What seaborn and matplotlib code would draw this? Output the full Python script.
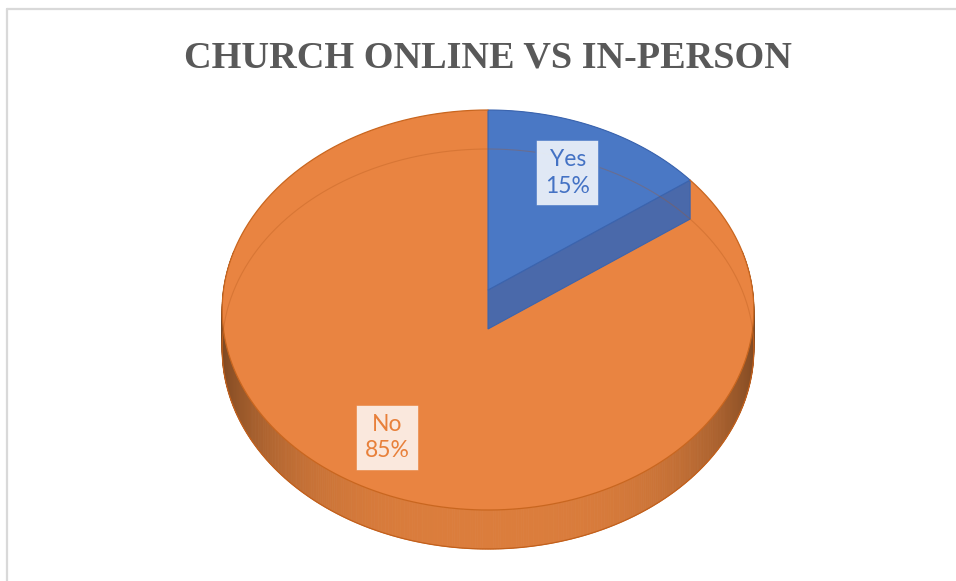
import numpy as np
import matplotlib
matplotlib.use("Agg")
import matplotlib.pyplot as plt
from matplotlib.patches import Polygon
from matplotlib.lines import Line2D
import seaborn as sns

# ---- data -------------------------------------------------------------
categories = ["Yes", "No"]
values = [15, 85]
title = "CHURCH ONLINE VS IN-PERSON"

# ---- style ------------------------------------------------------------
top_colors = ["#4A78C5", "#E98441"]
edge_colors = ["#3B64AE", "#C9661F"]
wall_mid = [np.array([70, 100, 165]), np.array([219, 125, 60])]
wall_dark = [np.array([40, 60, 110]), np.array([125, 72, 34])]
cut_colors = ["#4A69AA", "#B8652B"]
text_colors = ["#4472C4", "#E8803A"]
box_colors = ["#E9EFF8", "#FBEEE6"]
label_radius = [0.705, 0.78]

sns.set_theme(style="white")
plt.rcParams["font.family"] = ["Lato", "DejaVu Sans"]

W, H = 956, 581
fig = plt.figure(figsize=(W / 100, H / 100), dpi=100)
ax = fig.add_axes([0, 0, 1, 1])
ax.set_xlim(0, W)
ax.set_ylim(H, 0)
ax.axis("off")

# projected pie geometry (tilted disc seen in perspective)
CX, CY = 488.0, 290.0
A, C = 169.0, -0.1
K = 264.5
DEPTH = 39.0


def project(theta, rho=1.0):
    """theta measured clockwise from 12 o'clock, rho as fraction of radius"""
    theta = np.asarray(theta, dtype=float)
    u = rho * np.sin(theta)
    v = -rho * np.cos(theta)
    den = 1 + C * v
    return CX + K * u / den, (A * v + CY) / den


total = float(sum(values))
fracs = [v / total for v in values]
bounds = np.concatenate([[0.0], np.cumsum(fracs)]) * 2 * np.pi


def slice_of(theta):
    return int(np.searchsorted(bounds, theta % (2 * np.pi), side="right") - 1)


# ---- side wall, shaded by facing direction ------------------------------
n_seg = 720
ts = np.linspace(0, 2 * np.pi, n_seg + 1)
for t0, t1 in zip(ts[:-1], ts[1:]):
    tm = 0.5 * (t0 + t1)
    if -np.cos(tm) < -0.2:
        continue  # back of the wall, hidden under the top face
    i = min(slice_of(tm), len(values) - 1)
    w = abs(np.sin(tm)) ** 3.2
    col = (wall_mid[i] * (1 - w) + wall_dark[i] * w) / 255.0
    x0, y0 = project(t0)
    x1, y1 = project(t1)
    quad = [(x0, y0), (x1, y1), (x1, y1 + DEPTH), (x0, y0 + DEPTH)]
    ax.add_patch(Polygon(quad, closed=True, fc=col, ec=col, lw=0.6, zorder=1))

# lower rim of the wall
tf = np.linspace(-np.pi / 2 - 0.15, np.pi / 2 + 0.15, 400) + np.pi
bx, by = project(tf)
ax.plot(bx, by + DEPTH, color="#C2601C", lw=0.9, zorder=2)

# ---- top faces ------------------------------------------------------------
for i, (a0, a1) in enumerate(zip(bounds[:-1], bounds[1:])):
    arc = np.linspace(a0, a1, 400)
    px, py = project(arc)
    pts = [(CX, CY)] + list(zip(px, py))
    ax.add_patch(Polygon(pts, closed=True, fc=top_colors[i], ec="none", zorder=3))

# cut face of the first slice along its trailing edge
ex, ey = project(bounds[1])
cut = [(CX, CY), (ex, ey), (ex, ey + DEPTH), (CX, CY + DEPTH)]
ax.add_patch(Polygon(cut, closed=True, fc=cut_colors[0], ec=edge_colors[0],
                     lw=0.8, zorder=4))

# first slice redrawn above the cut face
arc = np.linspace(bounds[0], bounds[1], 400)
px, py = project(arc)
ax.add_patch(Polygon([(CX, CY)] + list(zip(px, py)), closed=True,
                     fc=top_colors[0], ec=edge_colors[0], lw=0.8, zorder=5))

# outline of the larger slice
arc = np.linspace(bounds[1], bounds[2], 600)
px, py = project(arc)
ax.plot(px, py, color=edge_colors[1], lw=0.9, zorder=5)

# back lower rim faintly showing through the top surface
tb = np.linspace(-np.pi / 2 - 0.12, np.pi / 2 + 0.12, 400)
bx, by = project(tb)
ax.plot(bx, by + DEPTH, color="#B0561A", lw=0.8, alpha=0.3, zorder=6)

# ---- data labels ------------------------------------------------------------
for i, (cat, val) in enumerate(zip(categories, values)):
    mid = 0.5 * (bounds[i] + bounds[i + 1])
    lx, ly = project(mid, label_radius[i])
    pct = int(round(100 * val / total))
    ax.text(float(lx), float(ly), f"{cat}\n{pct}%", ha="center", va="center",
            fontsize=16.5, color=text_colors[i], linespacing=1.3, zorder=8,
            bbox=dict(boxstyle="square,pad=0.4", fc=box_colors[i],
                      ec=top_colors[i], lw=1.2, alpha=0.95))

# ---- title and frame ---------------------------------------------------------
ax.text(488, 68, title, ha="center", va="baseline", fontsize=27.5,
        fontweight="bold", family=["Liberation Serif", "DejaVu Serif"],
        color="#595959", zorder=9)

frame_kw = dict(color="#D9D9D9", lw=1.6, transform=ax.transData, zorder=10)
ax.add_line(Line2D([7.5, W], [9, 9], **frame_kw))
ax.add_line(Line2D([7.5, 7.5], [9, H], **frame_kw))

fig.savefig("out.png", dpi=100)
